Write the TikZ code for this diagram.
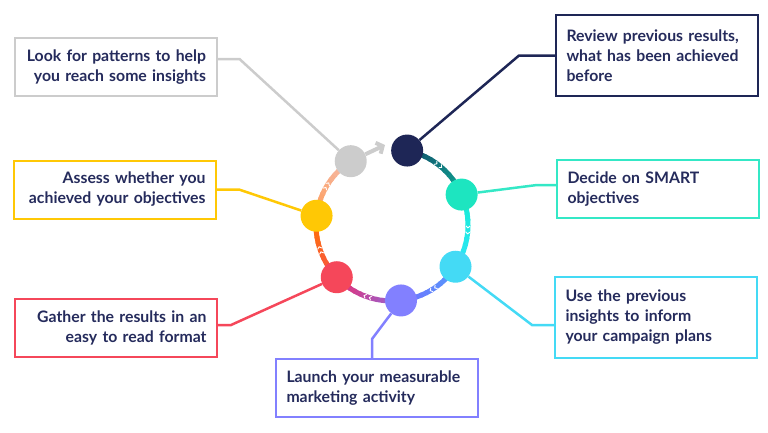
\documentclass[tikz,border=0pt]{standalone}
\usepackage{fontspec}
\setmainfont{Lato}
\usetikzlibrary{arrows.meta,decorations.markings}
\definecolor{txtnavy}{HTML}{252B5C}
\definecolor{cycgray}{HTML}{CCCCCC}
\definecolor{cycnavy}{HTML}{1E2656}
\definecolor{cycteal}{HTML}{1DE5C0}
\definecolor{cycsky}{HTML}{44DAF5}
\definecolor{cycviolet}{HTML}{8280FF}
\definecolor{cycred}{HTML}{F5475A}
\definecolor{cycgold}{HTML}{FFC805}
\pgfdeclarelayer{bg}
\pgfsetlayers{bg,main}
% one piece of the ring, coloured from #3 to #4
\newcommand{\ringseg}[4]{%
  \foreach \k in {0,...,11}{%
    \pgfmathsetmacro{\sa}{#1+(#2-#1)*\k/12}%
    \pgfmathsetmacro{\sb}{#1+(#2-#1)*(\k+1.3)/12}%
    \pgfmathsetmacro{\mx}{100*(\k+0.5)/12}%
    \draw[ring,draw=#4!\mx!#3] (\sa:76) arc[start angle=\sa,end angle=\sb,radius=76];
  }%
  \path[chev] (#1:76) arc[start angle=#1,end angle=#2,radius=76];
}

\begin{document}
\begin{tikzpicture}[x=1pt,y=1pt]
\tikzstyle{stepbox}=[draw,line width=2pt,fill=white,text=txtnavy,font={\fontsize{15.8}{20}\selectfont\bfseries},text width=181pt,inner xsep=10.5pt,minimum height=58pt]
\tikzstyle{lbox}=[stepbox,align=right]
\tikzstyle{rbox}=[stepbox,align=left]
\tikzstyle{link}=[line width=2.5pt]
\tikzstyle{ring}=[line width=5pt]
\tikzstyle{dot}=[circle,minimum size=32pt,inner sep=0pt]
\tikzstyle{chev}=[decorate,decoration={markings,
    mark=at position 0.46 with {\arrow{Straight Barb[length=2pt,width=4.5pt,line width=0.9pt,color=white]}},
    mark=at position 0.54 with {\arrow{Straight Barb[length=2pt,width=4.5pt,line width=0.9pt,color=white]}}}]
\useasboundingbox (0,0) rectangle (768,-432);

\node[lbox,draw=cycgray] (look) at (115.5,-67) {Look for patterns to help\\you reach some insights};
\node[rbox,draw=cycnavy,minimum height=81pt] (review) at (657,-55.5) {Review previous results,\\what has been achieved\\before};
\node[rbox,draw=cycteal!90!white] (smart) at (658,-189) {Decide on SMART\\objectives};
\node[lbox,draw=cycgold] (assess) at (115,-189.5) {Assess whether you\\achieved your objectives};
\node[lbox,draw=cycred] (gather) at (116,-328) {Gather the results in an\\easy to read format};
\node[rbox,draw=cycviolet] (launch) at (377,-388) {Launch your measurable\\marketing activity};
\node[rbox,draw=cycsky,minimum height=81pt] (plan) at (656,-317) {Use the previous\\insights to inform\\your campaign plans};

\begin{scope}[shift={(392,-225)}]
    \node[dot,fill=cycnavy] (dreview) at (78.5:76) {};
    \node[dot,fill=cycteal] (dsmart) at (23.6:76) {};
    \node[dot,fill=cycsky] (dplan) at (-33.3:76) {};
    \node[dot,fill=cycviolet] (dlaunch) at (-83.2:76) {};
    \node[dot,fill=cycred] (dgather) at (-136.6:76) {};
    \node[dot,fill=cycgold] (dassess) at (173:76) {};
    \node[dot,fill=cycgray] (dlook) at (122.9:76) {};
    \coordinate (tip) at (-7,80);
    \begin{pgfonlayer}{bg}
    \ringseg{78.5}{23.6}{cycnavy!60!teal}{cycteal!85!black}
    \ringseg{23.6}{-33.3}{cycteal!70!cyan}{cycsky}
    \ringseg{-33.3}{-83.2}{cycsky!60!blue!80!white}{cycviolet}
    \ringseg{-83.2}{-136.6}{cycviolet!80!purple}{cycred!80!magenta}
    \ringseg{-136.6}{-187}{cycred!80!orange}{orange!90!red}
    \ringseg{-187}{-237.1}{orange!55!pink}{cycgray!70!orange!60!pink}
    \draw[line width=4pt,cycgray,-{Straight Barb[length=5pt,width=12pt]}] (dlook) -- (tip);
    \end{pgfonlayer}
\end{scope}

\begin{pgfonlayer}{bg}
\draw[link,cycgray] ([yshift=8pt]look.east) -- ++(22,0) -- (dlook);
\draw[link,cycnavy] (review.west) -- ++(-36,0) -- (dreview);
\draw[link,cycteal!90!white] ([yshift=4pt]smart.west) -- ++(-19,0) -- (dsmart);
\draw[link,cycgold] (assess.east) -- ++(22,0) -- (dassess);
\draw[link,cycred] ([yshift=3pt]gather.east) -- ++(13,0) -- (dgather);
\draw[link,cycviolet] ([xshift=-5pt]launch.north) -- ++(0,19) -- (dlaunch);
\draw[link,cycsky] ([yshift=-8pt]plan.west) -- ++(-22,0) -- (dplan);
\end{pgfonlayer}
\end{tikzpicture}
\end{document}
